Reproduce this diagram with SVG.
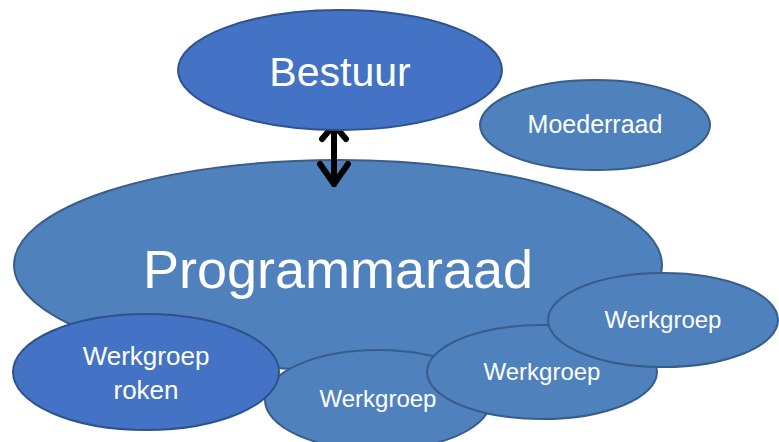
<svg xmlns="http://www.w3.org/2000/svg" width="779" height="442" viewBox="0 0 779 442">
<style>
.a{fill:#4472C4;stroke:#2F528F;stroke-width:2}
.b{fill:#4F81BD;stroke:#385D8A;stroke-width:2}
text{font-family:"Liberation Sans",Arial,sans-serif;fill:#FFFFFF;text-anchor:middle}
.arr{fill:none;stroke:#000000;stroke-width:6;stroke-linecap:round;stroke-linejoin:round}
</style>
<rect width="779" height="442" fill="#FFFFFF"/>
<g id="programmaraad">
<ellipse class="b" cx="338" cy="265" rx="324" ry="105"/>
<text x="338" y="288" font-size="54">Programmaraad</text>
</g>
<g id="connectors">
<line class="arr" x1="334" y1="126" x2="334" y2="184"/>
<polyline class="arr" points="322,139 334,125 346,139"/>
<polyline class="arr" points="320,164 334,184 348,164"/>
</g>
<g id="bestuur">
<ellipse class="a" cx="340" cy="70" rx="162" ry="60"/>
<text x="340" y="86" font-size="41">Bestuur</text>
</g>
<g id="moederraad">
<ellipse class="b" cx="595" cy="125" rx="115" ry="45"/>
<text x="595" y="133" font-size="25">Moederraad</text>
</g>
<g id="werkgroep3">
<ellipse class="b" cx="378" cy="400" rx="113" ry="50"/>
<text x="378" y="407" font-size="24">Werkgroep</text>
</g>
<g id="werkgroep2">
<ellipse class="b" cx="542" cy="372" rx="115" ry="47"/>
<text x="542" y="380" font-size="24">Werkgroep</text>
</g>
<g id="werkgroep1">
<ellipse class="b" cx="663" cy="320" rx="115" ry="47"/>
<text x="663" y="328" font-size="24">Werkgroep</text>
</g>
<g id="werkgroep-roken">
<ellipse class="a" cx="146" cy="372" rx="133" ry="58"/>
<text x="146" y="365" font-size="26">Werkgroep</text>
<text x="146" y="399" font-size="26">roken</text>
</g>
</svg>
